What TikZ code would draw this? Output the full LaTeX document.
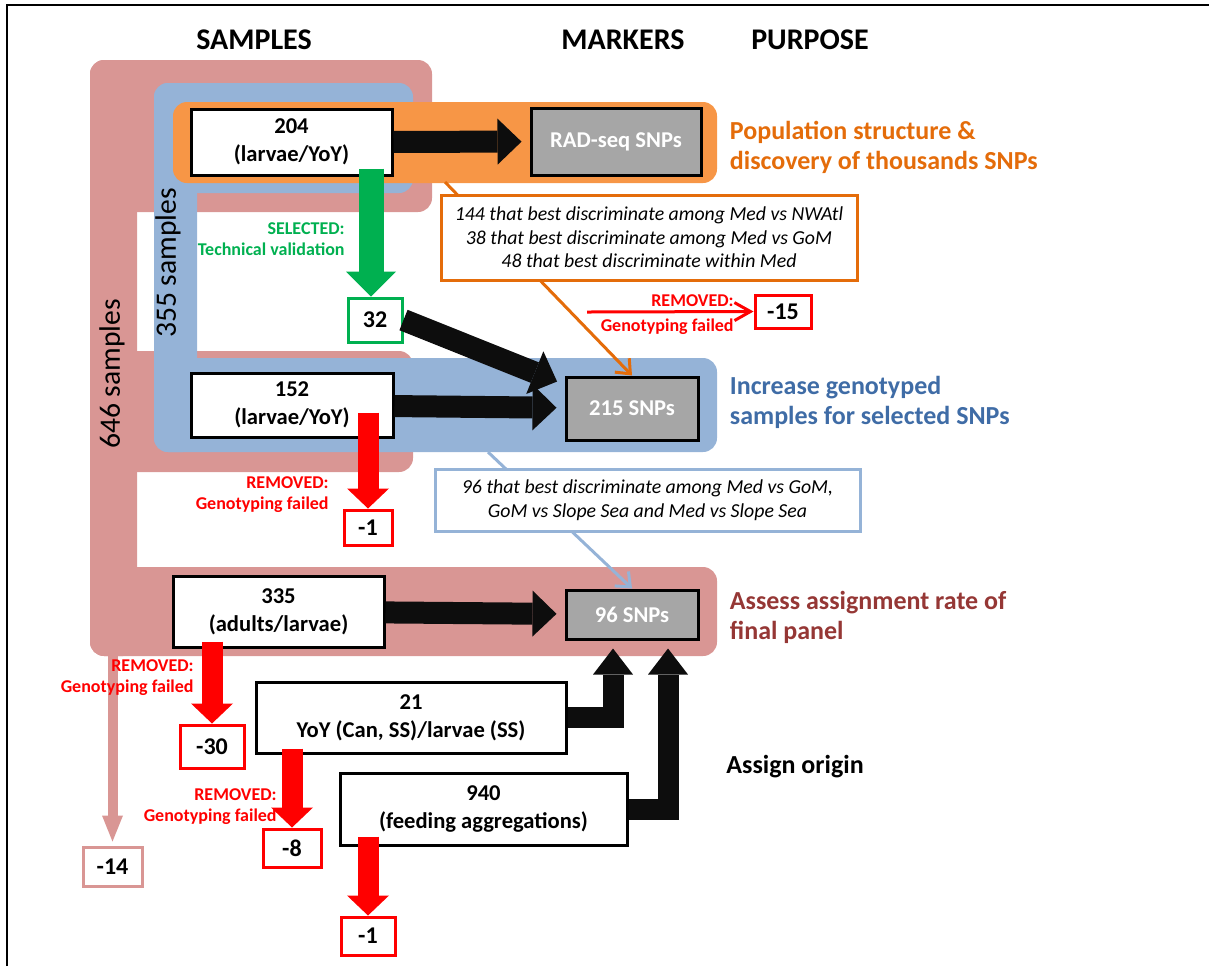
\documentclass[tikz,border=0pt]{standalone}
\usepackage{fontspec}
\setmainfont{Carlito}
\usepackage{tikz}
\usetikzlibrary{arrows.meta, positioning, calc}

\definecolor{pinkbg}{HTML}{D99694}
\definecolor{bluebg}{HTML}{95B3D7}
\definecolor{orangebg}{HTML}{F79646}
\definecolor{orangedk}{HTML}{E46C0A}
\definecolor{bluedk}{HTML}{3F6CA6}
\definecolor{reddk}{HTML}{953735}
\definecolor{selgreen}{HTML}{00B050}
\definecolor{snpgray}{HTML}{A6A6A6}
\definecolor{arrowblk}{HTML}{0D0D0D}

\begin{document}
\begin{tikzpicture}[x=0.5pt, y=-0.5pt,
    box/.style={draw=black, line width=1.5pt, fill=white, inner sep=0pt, align=center, font=\bfseries\fontsize{11.3}{14}\selectfont},
    snp/.style={box, fill=snpgray, text=white, font=\bfseries\fontsize{11.3}{13}\selectfont},
    loss/.style={box, draw=red, font=\bfseries\fontsize{12}{14}\selectfont},
    note/.style={fill=white, line width=1.5pt, inner sep=0pt, align=center, font=\itshape\fontsize{9.9}{11.75}\selectfont},
    tag/.style={anchor=east, align=right, inner sep=0pt, font=\bfseries\fontsize{9}{10.5}\selectfont},
    goal/.style={anchor=west, align=left, inner sep=0pt, font=\bfseries\fontsize{13}{15}\selectfont},
    colhead/.style={font=\bfseries\fontsize{15}{18}\selectfont},
    samplecount/.style={rotate=90, font=\fontsize{14.8}{16}\selectfont},
    fat/.style={line width=11pt, draw=arrowblk, -{Triangle[length=12pt,width=23pt,line width=0pt]}, shorten >=4pt},
    drop/.style={line width=10.5pt, draw=red, -{Triangle[length=10pt,width=21pt,line width=0pt]}},
    callline/.style={line width=1.5pt, -{Straight Barb[length=6pt,width=10pt]}},
]
    \useasboundingbox (0,0) rectangle (1209,966);

    \fill[pinkbg, rounded corners=7pt] (90,60) rectangle (432,212);
    \fill[pinkbg, rounded corners=7pt] (90,60) rectangle (137,656);
    \fill[pinkbg, rounded corners=7pt] (90,351) rectangle (413,472);
    \fill[pinkbg, rounded corners=7pt] (90,567) rectangle (717,656);
    \fill[bluebg, rounded corners=7pt] (154,83) rectangle (413,193);
    \fill[bluebg, rounded corners=7pt] (154,83) rectangle (197,452);
    \fill[bluebg, rounded corners=7pt] (154,358) rectangle (717,452);
    \fill[orangebg, rounded corners=7pt] (173,102) rectangle (717,183);

    \draw[line width=1pt] (7,966) -- (7,5) -- (1209,5);

    \node (hsamp) [colhead] at (254,40) {SAMPLES};
    \node (hmark) [colhead] at (623,40) {MARKERS};
    \node (hpurp) [colhead] at (810,40) {PURPOSE};

    \node (n646) [samplecount] at (112,374) {646 samples};
    \node (n355) [samplecount] at (168,263) {355 samples};

    \node (a204) [box, minimum width=100.5pt, minimum height=33pt] at (291.5,142) {204\\(larvae/YoY)};
    \node (rad) [snp, minimum width=85pt, minimum height=33.5pt] at (616,141.5) {RAD-seq SNPs};
    \node (a32) [box, draw=selgreen, font=\bfseries\fontsize{12}{14}\selectfont, minimum width=27pt, minimum height=22pt] at (375,320) {32};
    \node (a152) [box, minimum width=101pt, minimum height=32pt] at (292,405) {152\\(larvae/YoY)};
    \node (snp215) [snp, minimum width=66pt, minimum height=31.5pt] at (632,408.5) {215 SNPs};
    \node (a335) [box, minimum width=105.5pt, minimum height=35.5pt] at (278.5,611.5) {335\\(adults/larvae)};
    \node (snp96) [snp, minimum width=66pt, minimum height=24.5pt] at (632,614.5) {96 SNPs};
    \node (a21) [box, minimum width=155pt, minimum height=35.5pt] at (411,717.5) {21\\YoY (Can, SS)/larvae (SS)};
    \node (a940) [box, minimum width=143.5pt, minimum height=36pt] at (483.5,809) {940\\(feeding aggregations)};

    \node (m15) [loss, minimum width=28pt, minimum height=16.5pt] at (783,311.5) {-15};
    \node (m1a) [loss, minimum width=24pt, minimum height=17.5pt] at (368,527.5) {-1};
    \node (m30) [loss, minimum width=32pt, minimum height=21.5pt] at (212,746.5) {-30};
    \node (m14) [loss, draw=pinkbg, minimum width=29.5pt, minimum height=19.5pt] at (112.5,866.5) {-14};
    \node (m8) [loss, minimum width=29pt, minimum height=19pt] at (292,848) {-8};
    \node (m1b) [loss, minimum width=27pt, minimum height=19pt] at (368,936) {-1};

    \coordinate (orgfoot) at (445,182);
    \coordinate (bluefoot) at (488,452);
    \coordinate (pinkfoot) at (112.5,656);
    \coordinate (cutfrom) at (587,312);

    \draw[callline, orangedk] (orgfoot) -- (snp215.north);
    \draw[callline, bluebg] (bluefoot) -- (snp96.north);

    \node (why1) [note, draw=orangedk, minimum width=208pt, minimum height=42.5pt] at (649,237.5) {144 that best discriminate among Med vs NWAtl\\38 that best discriminate among Med vs GoM\\48 that best discriminate within Med};
    \node (why2) [note, draw=bluebg, minimum width=212.5pt, minimum height=31pt] at (647.5,500) {96 that best discriminate among Med vs GoM,\\GoM vs Slope Sea and Med vs Slope Sea};

    \draw[fat] (a204) -- (rad);
    \draw[fat] (a152) -- (snp215);
    \draw[fat] (a335) -- (snp96);
    \draw[fat] (a32.east) -- ([yshift=12pt]snp215.west);
    \draw[fat, -{Triangle[length=13pt,width=20pt,line width=0pt]}, line width=10.5pt] (a21.east) -| ([xshift=-9.5pt]snp96.south);
    \draw[fat, -{Triangle[length=13pt,width=20pt,line width=0pt]}, line width=10.5pt] (a940.east) -| ([xshift=18pt]snp96.south);

    \draw[line width=12.5pt, draw=selgreen, -{Triangle[length=12.5pt,width=25pt,line width=0pt]}] ($(a32.north |- a204.south)+(-4,-8)$) -- ([xshift=-2pt]a32.north);

    \draw[drop] ($(m1a.north |- a152.south)+(0,-26)$) -- (m1a.north);
    \draw[drop] ($(m30.north |- a335.south)+(0,-7)$) -- (m30.north);
    \draw[drop] ($(m8.north |- a21.south)+(0,-6)$) -- (m8.north);
    \draw[drop] ($(m1b.north |- a940.south)+(0,-10)$) -- (m1b.north);
    \draw[line width=5pt, draw=pinkbg, -{Triangle[length=13pt,width=10.5pt,line width=0pt]}, shorten >=2pt] (pinkfoot) -- (m14.north);
    \draw[line width=1.5pt, red, -{Straight Barb[length=8pt,width=9pt]}] (cutfrom) -- (m15.west);

    \node (selnote) [tag, text=selgreen] at (345,239) {SELECTED:\\Technical validation};
    \node (rm15) [tag, text=red, font=\bfseries\fontsize{9}{12.5}\selectfont] at (734,314.5) {REMOVED:\\Genotyping failed};
    \node (rm1a) [tag, text=red] at (329,495) {REMOVED:\\Genotyping failed};
    \node (rm30) [tag, text=red] at (194,677.5) {REMOVED:\\Genotyping failed};
    \node (rm8) [tag, text=red] at (277,807) {REMOVED:\\Genotyping failed};

    \node (goal1) [goal, text=orangedk, right=13.5pt of rad, yshift=-2.75pt] {Population structure \&\\discovery of thousands SNPs};
    \node (goal2) [goal, text=bluedk, right=15pt of snp215, yshift=3pt] {Increase genotyped\\samples for selected SNPs};
    \node (goal3) [goal, text=reddk, right=15pt of snp96, yshift=-1.5pt] {Assess assignment rate of\\final panel};
    \node (goal4) [goal] at (726,767) {Assign origin};
\end{tikzpicture}
\end{document}
